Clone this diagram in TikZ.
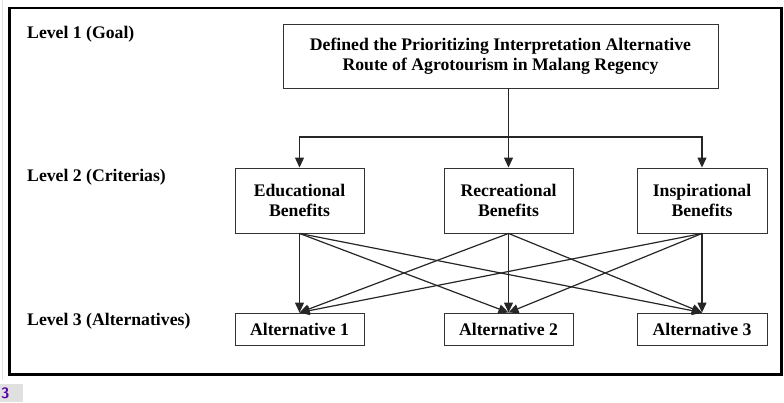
\documentclass[tikz,border=0pt]{standalone}
\usepackage{fontspec}
\setmainfont{Liberation Serif}
\usetikzlibrary{arrows.meta}
\begin{document}
\begin{tikzpicture}[x=1bp,y=-1bp,
  lbl/.style={anchor=base west,inner sep=0pt,font=\fontsize{17.7bp}{21bp}\selectfont\bfseries},
  boxnode/.style={draw=black!80,line width=0.9bp,inner sep=0pt,align=center,
    font=\fontsize{17.7bp}{20.5bp}\selectfont\bfseries},
  conn/.style={draw=black!85,line width=1.2bp},
  arr/.style={conn,-{Triangle[length=10bp,width=9bp]}}]
\useasboundingbox (0,0) rectangle (784,402);
% page artefacts
\draw[black!12,line width=1bp] (2,0) -- (2,380);
\fill[black!12] (0,384) rectangle (23,402);
\node[inner sep=0pt,anchor=base west,text=violet!70!blue,font=\fontsize{15bp}{16bp}\selectfont\sffamily\bfseries] (pg) at (1,398) {3};
% frame
\draw[line width=2.6bp] (9.5,8) rectangle (781.5,374.5);
% level labels
\node[lbl] (l1) at (27,38) {Level 1 (Goal)};
\node[lbl] (l2) at (27,181.5) {Level 2 (Criterias)};
\node[lbl] (l3) at (27,325.5) {Level 3 (Alternatives)};
% goal
\node[boxnode,minimum width=435bp,minimum height=64bp] (goal) at (500.5,56)
  {Defined the Prioritizing Interpretation Alternative\\Route of Agrotourism in Malang Regency};
% criteria
\node[boxnode,minimum width=129bp,minimum height=65bp] (edu) at (299.5,200.5) {Educational\\Benefits};
\node[boxnode,minimum width=129bp,minimum height=65bp] (rec) at (508.5,200.5) {Recreational\\Benefits};
\node[boxnode,minimum width=130bp,minimum height=65bp] (ins) at (702,200.5) {Inspirational\\Benefits};
% alternatives
\node[boxnode,minimum width=129bp,minimum height=32bp] (a1) at (299.5,329) {Alternative 1};
\node[boxnode,minimum width=129bp,minimum height=32bp] (a2) at (508.5,329) {Alternative 2};
\node[boxnode,minimum width=130bp,minimum height=32bp] (a3) at (702,329) {Alternative 3};
% goal to criteria
\coordinate (hub) at (rec.north |- 0,137);
\draw[conn] (goal.south -| rec.north) -- (hub);
\draw[arr] (hub) -- (rec.north);
\draw[arr] (hub) -| (edu.north);
\draw[arr] (hub) -| (ins.north);
% criteria to alternatives
\foreach \c in {edu,rec,ins}{
  \foreach \a in {a1,a2,a3}{
    \draw[arr] (\c.south) -- (\a.north);
  }
}
\end{tikzpicture}
\end{document}
